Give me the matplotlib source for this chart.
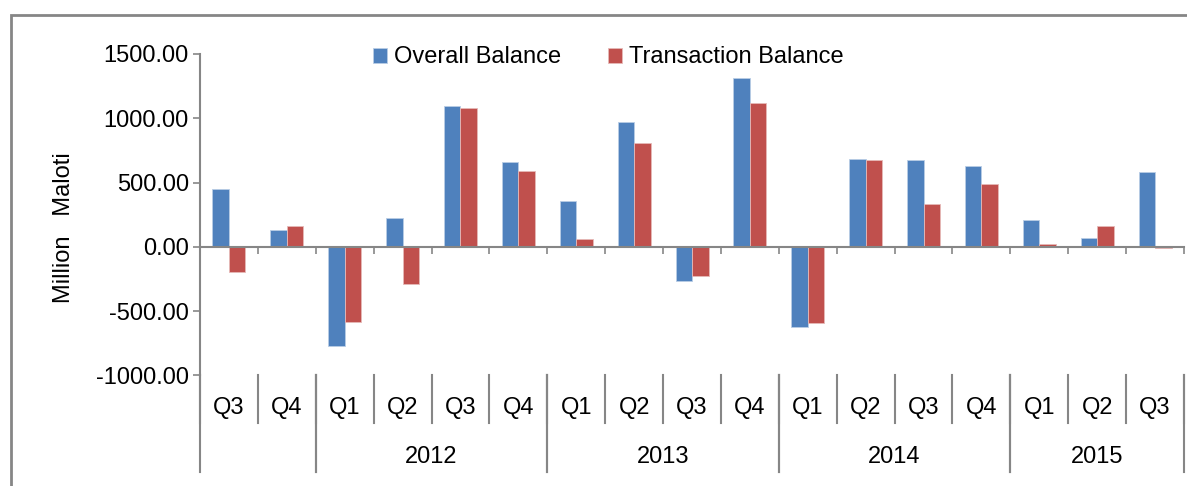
import matplotlib.pyplot as plt
import matplotlib.transforms as mtransforms
from matplotlib.patches import Rectangle
import numpy as np

plt.rcParams['font.family'] = ['Liberation Sans', 'DejaVu Sans']

# data (million Maloti)
quarters = ['Q3', 'Q4', 'Q1', 'Q2', 'Q3', 'Q4', 'Q1', 'Q2', 'Q3', 'Q4',
            'Q1', 'Q2', 'Q3', 'Q4', 'Q1', 'Q2', 'Q3']
years = ['', '2012', '2013', '2014', '2015']
year_sizes = [2, 4, 4, 4, 3]
overall = [451, 127, -772, 225, 1096, 661, 358, 967, -264, 1314,
           -627, 682, 674, 628, 205, 70, 581]
transaction = [-194, 163, -586, -288, 1076, 591, 62, 809, -230, 1117,
               -591, 672, 332, 488, 23, 159, -8]

blue = '#4F81BD'
red = '#C0504D'
grey = '#868686'
fs = 17

fig = plt.figure(figsize=(11.87, 4.86), dpi=100)
ax = fig.add_axes([0.1685, 0.2278, 0.829, 0.6611])

x = np.arange(len(quarters))
w = 0.285
ax.bar(x - w / 2, overall, w, color=blue, edgecolor='#B9CDE5', linewidth=0.6,
       label='Overall Balance')
ax.bar(x + w / 2, transaction, w, color=red, edgecolor='#E6B9B8', linewidth=0.6,
       label='Transaction Balance')

ax.set_xlim(-0.5, len(quarters) - 0.5)
ax.set_ylim(-1000, 1500)
ax.set_yticks([-1000, -500, 0, 500, 1000, 1500])
ax.set_yticklabels(['%.2f' % v for v in [-1000, -500, 0, 500, 1000, 1500]])
ax.tick_params(axis='y', direction='out', length=5, width=1.2, color=grey,
               labelsize=fs, pad=3)

# category axis sits on zero
bounds = np.arange(len(quarters) + 1) - 0.5
ax.spines['bottom'].set_position(('data', 0))
ax.set_xticks(bounds)
ax.set_xticklabels([])
ax.tick_params(axis='x', direction='out', length=5, width=1.2, color=grey)
for s in ['top', 'right']:
    ax.spines[s].set_visible(False)
for s in ['left', 'bottom']:
    ax.spines[s].set_color(grey)
    ax.spines[s].set_linewidth(1.5)

# multi-level category labels below the plot
trans = mtransforms.blended_transform_factory(ax.transData, ax.transAxes)
for i, q in enumerate(quarters):
    ax.text(i, -0.102, q, transform=trans, ha='center', va='center', fontsize=fs)
for b in bounds:
    ax.plot([b, b], [0, -0.148], transform=trans, color=grey, lw=1.5, clip_on=False)
start = 0
for yr, n in zip(years, year_sizes):
    left = start - 0.5
    right = start + n - 0.5
    ax.plot([left, left], [0, -0.301], transform=trans, color=grey, lw=1.5, clip_on=False)
    ax.plot([right, right], [0, -0.301], transform=trans, color=grey, lw=1.5, clip_on=False)
    ax.text((left + right) / 2, -0.254, yr, transform=trans, ha='center', va='center',
            fontsize=fs)
    start += n

ax.set_ylabel('Million   Maloti', fontsize=fs)
ax.yaxis.set_label_coords(-0.127, 0.46)

ax.legend(loc='upper center', bbox_to_anchor=(0.415, 1.09), ncol=2, frameon=False,
          fontsize=fs, handlelength=0.6, handleheight=0.6, handletextpad=0.3,
          columnspacing=2.0)

# chart area border
fig.add_artist(Rectangle((11 / 1187, -0.1), 1.2, 1.0 - 15 / 486 + 0.1,
                         transform=fig.transFigure, fill=False, edgecolor=grey, lw=2))

fig.savefig('out.png', dpi=100)
